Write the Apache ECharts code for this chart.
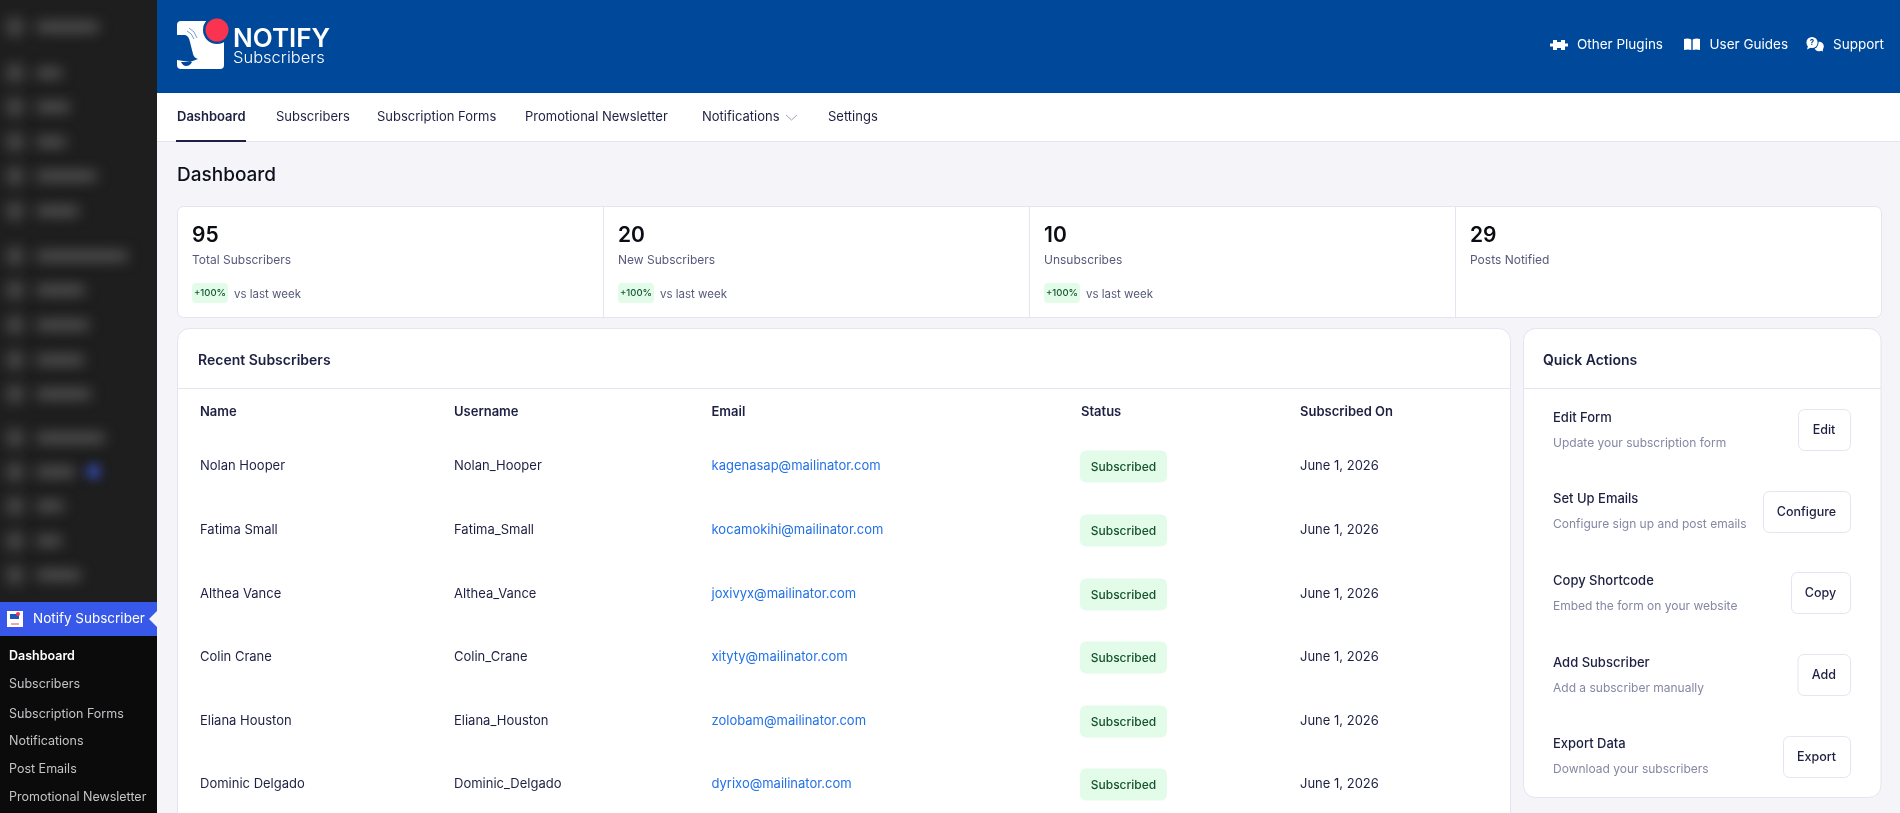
<!DOCTYPE html>
<html>
<head>
<meta charset="utf-8">
<title>Notify Subscribers</title>
<script src="https://cdn.jsdelivr.net/npm/echarts@6/dist/echarts.min.js"></script>
<style>
  html, body { margin: 0; padding: 0; background: #f5f5f9; overflow: hidden; }
  #page { width: 1900px; height: 813px; }
</style>
</head>
<body>
<div id="page"></div>
<script>
const topLinks = ["Other Plugins", "User Guides", "Support"];
const navTabs = ["Dashboard", "Subscribers", "Subscription Forms", "Promotional Newsletter", "Notifications", "Settings"];
const statValues = ["95", "20", "10", "29"];
const statLabels = ["Total Subscribers", "New Subscribers", "Unsubscribes", "Posts Notified"];
const statDeltas = ["+100%", "+100%", "+100%", ""];
const tableColumns = ["Name", "Username", "Email", "Status", "Subscribed On"];
const names = ["Nolan Hooper", "Fatima Small", "Althea Vance", "Colin Crane", "Eliana Houston", "Dominic Delgado"];
const usernames = ["Nolan_Hooper", "Fatima_Small", "Althea_Vance", "Colin_Crane", "Eliana_Houston", "Dominic_Delgado"];
const emails = ["kagenasap@mailinator.com", "kocamokihi@mailinator.com", "joxivyx@mailinator.com", "xityty@mailinator.com", "zolobam@mailinator.com", "dyrixo@mailinator.com"];
const statuses = ["Subscribed", "Subscribed", "Subscribed", "Subscribed", "Subscribed", "Subscribed"];
const dates = ["June 1, 2026", "June 1, 2026", "June 1, 2026", "June 1, 2026", "June 1, 2026", "June 1, 2026"];
const actionTitles = ["Edit Form", "Set Up Emails", "Copy Shortcode", "Add Subscriber", "Export Data"];
const actionHints = ["Update your subscription form", "Configure sign up and post emails", "Embed the form on your website", "Add a subscriber manually", "Download your subscribers"];
const actionButtons = ["Edit", "Configure", "Copy", "Add", "Export"];
const sideItems = ["Dashboard", "Subscribers", "Subscription Forms", "Notifications", "Post Emails", "Promotional Newsletter"];

// layout of the page, in screen pixels
const FONT = "Inter, 'Noto Sans', sans-serif";
const INK = "#1d2042";
const LINE = "#e3e5f0";
const GREEN_BG = "#e3fbe9";
const BLUE = "#00489a";
const navX = [177, 276, 377, 525, 702, 828];
const statX = [192, 618, 1044, 1470];
const columnX = [200, 454, 711.5, 1081, 1300];
const rowY = [466, 530, 594, 657, 721, 784];
const actionY = [418, 499, 581, 663, 744];
const buttonLeft = [1798, 1763, 1791, 1797.5, 1783];
const buttonTop = [409, 491, 572, 654, 736];
const sideY = [656, 684, 714, 741, 769, 797];
// blurred wp menu rows: [centre y, end of the label]
const blurRows = [[27, 100], [73, 63], [107, 71], [142, 67], [176, 98], [211, 80], [256, 129], [290, 86], [325, 90], [360, 85], [394, 92], [438, 106], [472, 76], [506, 65], [541, 63], [575, 82]];

const g = [];
let pathCount = 0;

function text(x, y, str, size, weight, fill, align) {
  g.push({
    type: "text", x, y, silent: true,
    style: { text: str, font: `${weight} ${size}px ${FONT}`, fill, textAlign: align || "left", textVerticalAlign: "middle" }
  });
}

function box(x, y, w, h, r, fill, stroke) {
  g.push({
    type: "rect", silent: true,
    shape: { x, y, width: w, height: h, r },
    style: { fill, stroke: stroke || null, lineWidth: stroke ? 1 : 0 }
  });
}

// the graphic component has no path type, so each svg path goes in as its own shape
function path(d, fill, stroke, lineWidth) {
  const name = `pagePath${pathCount++}`;
  echarts.graphic.registerShape(name, echarts.graphic.extendPath(d, {}));
  g.push({
    type: name, silent: true,
    style: { fill: fill || "none", stroke: stroke || null, lineWidth: lineWidth || 0 }
  });
}

function circle(cx, cy, r, fill) {
  g.push({ type: "circle", silent: true, shape: { cx, cy, r }, style: { fill } });
}

// only the shadow of a rect parked off the page lands on the sidebar, so it reads as blur
function blur(x, y, w, h, blurSize, color) {
  g.push({
    type: "rect", silent: true,
    shape: { x: x - 2000, y, width: w, height: h, r: h / 2 },
    style: { fill: "#000", shadowBlur: blurSize, shadowColor: color, shadowOffsetX: 2000 * (window.devicePixelRatio || 1) }
  });
}

function drawSidebar() {
  box(0, 0, 157, 813, 0, "#1e1e1e");
  blurRows.forEach(([y, end]) => {
    blur(9, y - 6, 12, 12, 16, "rgba(165,165,165,.85)");
    blur(36, y - 4, end - 37, 8, 14, "rgba(125,125,125,.75)");
  });
  blur(88, 465, 11, 13, 12, "rgba(60,90,225,1)");

  box(0, 636, 157, 177, 0, "#0b0b0b");
  box(0, 602, 157, 34, 0, "#3858e9");
  box(7, 611, 16, 16, 0, "#ffffff");
  box(10, 614, 9, 5, 0, "#1f56b8");
  circle(18, 614, 2, "#f93350");
  box(11, 623, 8, 2, 0, "#f0a6b2");
  text(33, 619, "Notify Subscriber", 13.5, 400, "#ffffff");
  path("M157 611 L149 619 L157 627 Z", "#f5f5f9");

  sideItems.forEach((item, i) => {
    text(9, sideY[i], item, 12.5, i === 0 ? 600 : 400, i === 0 ? "#ffffff" : "#c3c4c7");
  });
}

function drawHeader() {
  box(157, 0, 1743, 93, 0, BLUE);
  path("M177 25 Q177 21 181 21 L212 21 L224 36 L224 65 Q224 69 220 69 L181 69 Q177 69 177 65 Z", "#ffffff");
  path("M177 35 L185 35 Q189 36 190 42 L193 54 Q194 58 198 59 L190 62 L177 60 Z", BLUE);
  path("M181 62 L192 62 Q190 66 186 66 Q183 66 181 62 Z", BLUE);
  path("M189 28 Q195 31 197 38 M187 31 Q192 33 194 39", null, "#7f9cc7", 1);
  circle(217, 30, 14, BLUE);
  circle(217, 30, 11.5, "#f93350");
  text(233, 39, "NOTIFY", 26, 600, "#ffffff");
  text(233, 58.5, "Subscribers", 16.5, 300, "#ffffff");

  // puzzle
  path("M1553 40 H1557 V42 H1561 V40 H1565 V43.5 H1568 V46.5 H1565 V50 H1561 V48 H1557 V50 H1553 V46.5 H1550 V43.5 H1553 Z", "#ffffff");
  // book
  path("M1684 39 Q1688 38 1691.3 39.5 V50 Q1688 49 1684 50 Z M1692.7 39.5 Q1696 38 1700 39 V50 Q1696 49 1692.7 50 Z", "#ffffff");
  // chat bubbles
  circle(1819, 46.5, 4.8, "#ffffff");
  circle(1812, 42.5, 6.6, BLUE);
  circle(1812, 42.5, 5.6, "#ffffff");
  path("M1808 46 L1807 49.5 L1811 47.5 Z M1820 50 L1823 51.5 L1822.5 48 Z", "#ffffff");
  text(1812, 42.5, "?", 8, 700, BLUE, "center");

  const linkX = [1577, 1709.5, 1833];
  topLinks.forEach((item, i) => text(linkX[i], 44.5, item, 13.5, 400, "#ffffff"));
}

function drawTabs() {
  box(157, 93, 1743, 48, 0, "#ffffff");
  box(157, 141, 1743, 1, 0, LINE);
  navTabs.forEach((tab, i) => {
    text(navX[i], 117.5, tab, 13, i === 0 ? 600 : 400, INK);
  });
  box(176, 140, 70, 2, 0, INK);
  path("M786 115 L791.5 120 L797 115", null, "#9ea3bd", 1);
}

function drawStats() {
  text(177, 175.5, "Dashboard", 19, 500, "#0d0f1c");
  box(177.5, 206.5, 1704, 111, 6, "#ffffff", LINE);
  [603, 1029, 1455].forEach(x => box(x, 207, 1, 110, 0, LINE));
  statValues.forEach((val, i) => {
    text(statX[i], 235.5, val, 21, 600, "#0b0c14");
    text(statX[i], 260, statLabels[i], 12, 400, "#565a7a");
    if (statDeltas[i]) {
      box(statX[i], 283, 36, 20, 4, GREEN_BG);
      text(statX[i] + 18, 293.5, statDeltas[i], 9.5, 500, "#14592f", "center");
      text(statX[i] + 42, 294.5, "vs last week", 11.5, 400, "#565a7a");
    }
  });
}

function drawTable() {
  box(177.5, 328.5, 1333, 520, 12, "#ffffff", LINE);
  box(178, 388, 1333, 1, 0, LINE);
  text(198, 360.5, "Recent Subscribers", 14, 600, INK);
  tableColumns.forEach((col, i) => text(columnX[i], 412.5, col, 13, 600, INK));
  names.forEach((name, i) => {
    const y = rowY[i];
    text(columnX[0], y, name, 13, 400, INK);
    text(columnX[1], y, usernames[i], 13, 400, INK);
    text(columnX[2], y, emails[i], 13, 400, "#2271e8");
    box(1080, y - 15.5, 87, 32, 6, GREEN_BG);
    text(1123.5, y + 1, statuses[i], 12, 500, "#14532d", "center");
    text(columnX[4], y, dates[i], 13, 400, INK);
  });
}

function drawActions() {
  box(1523.5, 328.5, 357.5, 469, 12, "#ffffff", LINE);
  box(1524, 388, 357, 1, 0, LINE);
  text(1543, 360.5, "Quick Actions", 14, 600, INK);
  actionTitles.forEach((title, i) => {
    text(1553, actionY[i], title, 13, 500, INK);
    text(1553, actionY[i] + 25.5, actionHints[i], 12, 400, "#8488a3");
    box(buttonLeft[i] + .5, buttonTop[i] + .5, 1850 - buttonLeft[i], 41, 6, "#ffffff", LINE);
    text((buttonLeft[i] + 1850) / 2, buttonTop[i] + 21.5, actionButtons[i], 12.5, 500, INK, "center");
  });
}

drawSidebar();
drawHeader();
drawTabs();
drawStats();
drawTable();
drawActions();

const chart = echarts.init(document.getElementById("page"));
chart.setOption({ animation: false, backgroundColor: "#f5f5f9", graphic: { elements: g } });
</script>
</body>
</html>
